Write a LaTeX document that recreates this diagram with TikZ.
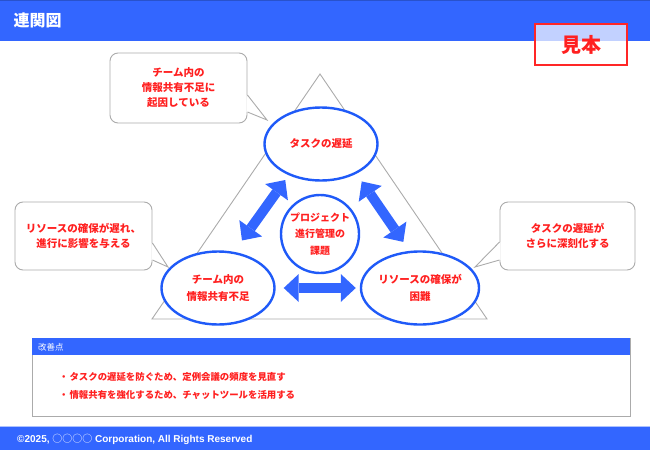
\documentclass[tikz,border=0pt]{standalone}
\usepackage{fontspec}
\setmainfont{Noto Sans CJK JP}
\newfontfamily\jpfont{Noto Sans CJK JP}
\newfontfamily\footfont{Liberation Sans}
\usetikzlibrary{shapes.geometric,arrows.meta,calc}

\definecolor{barblue}{HTML}{3366FF}
\definecolor{ringblue}{HTML}{1F5AF8}
\definecolor{notered}{HTML}{FF2020}
\definecolor{framegray}{HTML}{ABABAB}

\tikzset{
  issue/.style={ellipse, draw=ringblue, line width=2.4pt, fill=white, text=notered,
    align=center, minimum width=113pt, minimum height=73pt, inner sep=0pt,
    font=\fontsize{10.5}{16.5}\bfseries},
  bubble/.style={draw=framegray, line width=0.9pt, fill=white, rounded corners=8pt,
    text=notered, align=center, font=\fontsize{10.5}{15}\bfseries},
  twoway/.style={draw=barblue, line width=10pt,
    arrows={Triangle[length=15pt,width=28pt,line width=0pt]-Triangle[length=15pt,width=28pt,line width=0pt]}},
}

\begin{document}
\begin{tikzpicture}[x=1pt,y=-1pt]
    \useasboundingbox (0,0) rectangle (650,450);

    % Header
    \fill[barblue] (0,0) rectangle (650,41);
    \draw[barblue!80!black, line width=1pt] (0,0.5) -- (650,0.5);
    \node[anchor=west, text=white, font=\fontsize{16}{16}\bfseries] (title) at (10,20) {連関図};
    \node[draw=red!85!white, line width=1.3pt, fill=white, fill opacity=0.7, text opacity=1,
          text=notered, minimum width=92pt, minimum height=41pt,
          font=\fontsize{20}{20}\bfseries] (sample) at (581,44.5) {見本};

    % Triangle behind the issues
    \draw[framegray, line width=0.9pt] (320,74) -- (487,319) -- (152,319) -- cycle;

    % Issues
    \node[issue] (top) at (321,144) {タスクの遅延};
    \node[issue] (left) at (218,288) {チーム内の\\情報共有不足};
    \node[issue] (right) at (420,288) {リソースの確保が\\困難};
    \node[issue, circle, minimum size=78pt, minimum width=78pt, minimum height=78pt,
          font=\fontsize{10}{16.5}\bfseries] (core) at (320,234) {プロジェクト\\進行管理の\\課題};

    % Two-way arrows
    \draw[twoway] ([xshift=-10pt]$(top)!.25!(left)$) -- ([xshift=-10pt]$(top)!.67!(left)$);
    \draw[twoway] ([xshift=15pt]$(top)!.26!(right)$) -- ([xshift=15pt]$(top)!.68!(right)$);
    \draw[twoway, shorten <=8pt, shorten >=4pt] (left) -- (right);

    % Callouts
    \node[bubble, minimum width=137pt, minimum height=70pt] (noteA) at (178.5,88)
        {チーム内の\\情報共有不足に\\起因している};
    \node[bubble, minimum width=137pt, minimum height=68pt] (noteB) at (83.5,236)
        {リソースの確保が遅れ、\\進行に影響を与える};
    \node[bubble, minimum width=135pt, minimum height=68pt] (noteC) at (567.5,236)
        {タスクの遅延が\\さらに深刻化する};
    \coordinate (tipA) at (267,120);
    \coordinate (tipB) at (168,267);
    \coordinate (tipC) at (475,267);

    \fill[white] ([yshift=-7pt,xshift=-1pt]noteA.east) -- (tipA) -- ([yshift=-24pt,xshift=-1pt]noteA.east) -- cycle;
    \draw[framegray, line width=0.9pt] ([yshift=-7pt]noteA.east) -- (tipA) -- ([yshift=-24pt]noteA.east);
    \fill[white] ([yshift=-7pt,xshift=-1pt]noteB.east) -- (tipB) -- ([yshift=-24pt,xshift=-1pt]noteB.east) -- cycle;
    \draw[framegray, line width=0.9pt] ([yshift=-7pt]noteB.east) -- (tipB) -- ([yshift=-24pt]noteB.east);
    \fill[white] ([yshift=-6pt,xshift=1pt]noteC.west) -- (tipC) -- ([yshift=-24pt,xshift=1pt]noteC.west) -- cycle;
    \draw[framegray, line width=0.9pt] ([yshift=-6pt]noteC.west) -- (tipC) -- ([yshift=-24pt]noteC.west);

    % Improvement box
    \draw[framegray, line width=0.9pt] (32,338) rectangle (630,416);
    \fill[barblue] (32,338) rectangle (630,355);
    \node[anchor=west, text=white, font=\fontsize{8.5}{8.5}\selectfont, inner sep=0pt] (fixhead) at (38,347) {改善点};
    \node[anchor=west, text=notered, font=\fontsize{9.4}{9.4}\bfseries, inner sep=0pt] (fixA) at (59,377)
        {・\hspace{1pt}タスクの遅延を防ぐため、定例会議の頻度を見直す};
    \node[anchor=west, text=notered, font=\fontsize{9.4}{9.4}\bfseries, inner sep=0pt] (fixB) at (59,395)
        {・\hspace{1pt}情報共有を強化するため、チャットツールを活用する};

    % Footer
    \fill[barblue] (0,426) rectangle (650,450);
    \draw[barblue!40!white, line width=0.8pt] (0,426) -- (650,426);
    \node[anchor=west, text=white, font=\footfont\fontsize{10}{10}\bfseries, inner sep=0pt] (copy) at (17,439)
        {©2025, {\jpfont\mdseries ○○○○} Corporation, All Rights Reserved};
\end{tikzpicture}
\end{document}
